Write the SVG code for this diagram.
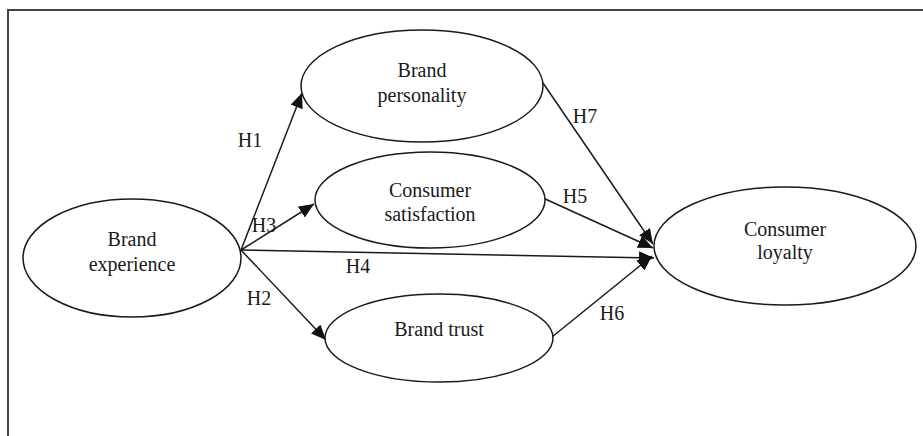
<svg xmlns="http://www.w3.org/2000/svg" width="923" height="436" viewBox="0 0 923 436">
  <style>
    .node ellipse { fill: #ffffff; stroke: #1a1a1a; stroke-width: 1.5; }
    .node text, .label { font-family: "Liberation Serif", "Times New Roman", serif; font-size: 20px; fill: #1a1a1a; text-anchor: middle; }
    .edge { stroke: #1a1a1a; stroke-width: 1.5; fill: none; marker-end: url(#arrow); }
  </style>
  <defs>
    <marker id="arrow" markerUnits="userSpaceOnUse" markerWidth="16" markerHeight="14" refX="15" refY="6.5" orient="auto">
      <path d="M0,0 L15,6.5 L0,13 z" fill="#111111"/>
    </marker>
  </defs>
  <rect width="923" height="436" fill="#ffffff"/>
  <!-- frame, open to the right and bottom -->
  <path d="M8,436 V10 H923" fill="none" stroke="#444444" stroke-width="2"/>

  <g id="connectors">
    <line class="edge" x1="241" y1="250" x2="302" y2="93"/>
    <line class="edge" x1="241" y1="250" x2="314" y2="204"/>
    <line class="edge" x1="241" y1="250" x2="326" y2="340"/>
    <line class="edge" x1="241" y1="250" x2="654" y2="258"/>
    <line class="edge" x1="543" y1="83" x2="653" y2="244"/>
    <line class="edge" x1="543" y1="198" x2="653" y2="248"/>
    <line class="edge" x1="552" y1="337" x2="652" y2="256"/>
    <text class="label" x="250" y="147">H1</text>
    <text class="label" x="264" y="232">H3</text>
    <text class="label" x="259" y="305">H2</text>
    <text class="label" x="358" y="273">H4</text>
    <text class="label" x="585" y="123">H7</text>
    <text class="label" x="575" y="203">H5</text>
    <text class="label" x="612" y="320">H6</text>
  </g>

  <g id="brand-experience" class="node">
    <ellipse cx="132" cy="258" rx="109" ry="59"/>
    <text x="132" y="246">Brand</text>
    <text x="132" y="271">experience</text>
  </g>
  <g id="brand-personality" class="node">
    <ellipse cx="422" cy="86" rx="121" ry="56"/>
    <text x="422" y="77">Brand</text>
    <text x="422" y="102">personality</text>
  </g>
  <g id="consumer-satisfaction" class="node">
    <ellipse cx="430" cy="200" rx="115" ry="48"/>
    <text x="430" y="197">Consumer</text>
    <text x="430" y="221">satisfaction</text>
  </g>
  <g id="brand-trust" class="node">
    <ellipse cx="439" cy="338" rx="114" ry="44"/>
    <text x="439" y="336">Brand trust</text>
  </g>
  <g id="consumer-loyalty" class="node">
    <ellipse cx="785" cy="246" rx="131" ry="59"/>
    <text x="785" y="236">Consumer</text>
    <text x="785" y="259">loyalty</text>
  </g>
</svg>
